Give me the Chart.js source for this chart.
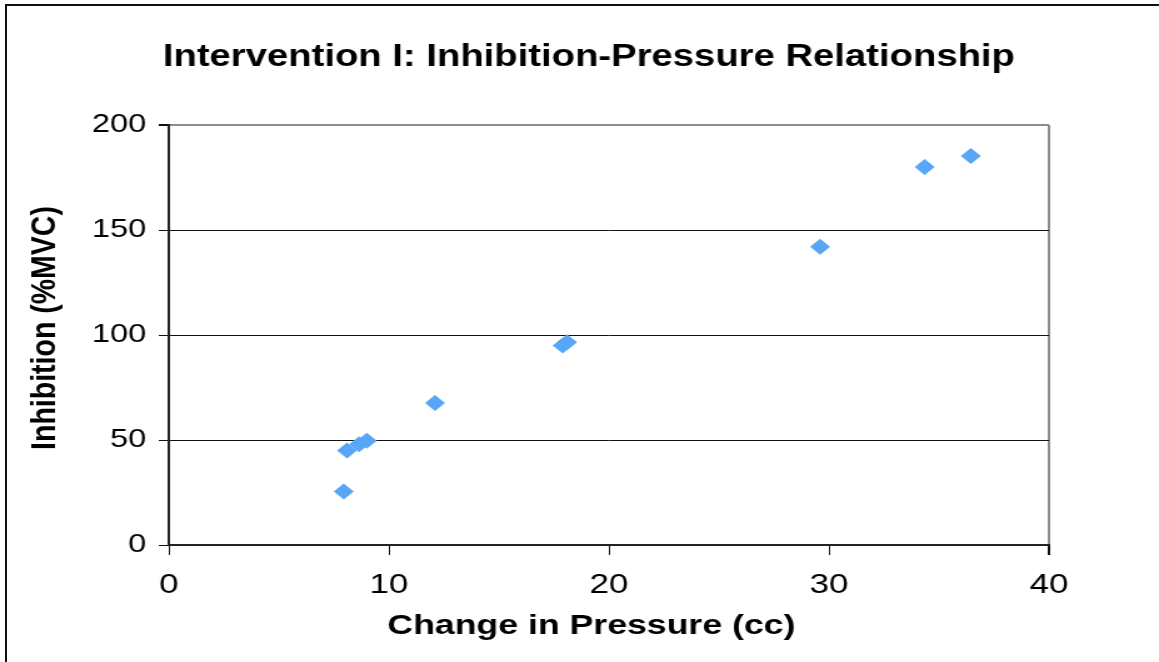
<!DOCTYPE html>
<html>
<head>
<meta charset="utf-8">
<script src="https://cdn.jsdelivr.net/npm/chart.js@4"></script>
<style>
  html, body { margin: 0; padding: 0; background: #fff; overflow: hidden; }
  #wrap { position: relative; width: 1159px; height: 662px; }
  #frame { position: absolute; left: 5px; top: 4px; width: 1300px; height: 800px;
           border-left: 2px solid #111; border-top: 2px solid #111; pointer-events: none; }
  canvas { position: absolute; left: 0; top: 0; }
</style>
</head>
<body>
<div id="wrap">
  <!-- the original picture is stretched sideways, so the canvas is drawn narrow and widened by css -->
  <canvas id="chart" width="927" height="662" style="width:1159px;height:662px"></canvas>
  <div id="frame"></div>
</div>
<script>
const chartTitle = "Intervention I: Inhibition-Pressure Relationship";
const xTitle = "Change in Pressure (cc)";
const yTitle = "Inhibition (%MVC)";

// values
const pressureChange = [7.95, 8.1, 8.65, 9.0, 12.1, 17.9, 18.1, 29.6, 34.35, 36.45];
const inhibition = [25.5, 45, 48, 49.7, 67.6, 95, 96.5, 142, 180, 185.2];

const xTicks = [0, 10, 20, 30, 40];
const yTicks = [0, 50, 100, 150, 200];

const FONT = '"Liberation Sans", Arial, sans-serif';

// chart title and axis titles sit a little off-centre in the original, so draw them here
const titles = {
  id: "titles",
  afterDraw(chart) {
    const c = chart.ctx;
    c.save();
    c.fillStyle = "#000";
    c.textAlign = "center";
    c.textBaseline = "middle";
    c.font = "bold 30.6px " + FONT;
    c.fillText(chartTitle, 471, 58);
    c.font = "bold 28.5px " + FONT;
    c.fillText(xTitle, 473, 626);
    c.translate(36, 328);
    c.rotate(-Math.PI / 2);
    c.fillText(yTitle, 0, 0);
    c.restore();
  },
};

const ctx = document.getElementById("chart").getContext("2d");
new Chart(ctx, {
  type: "scatter",
  data: {
    datasets: [
      {
        data: pressureChange.map((x, i) => ({ x: x, y: inhibition[i] })),
        pointStyle: "rectRot",
        pointRadius: 8,
        pointBorderWidth: 0,
        backgroundColor: "#57a6f7",
        borderColor: "#57a6f7",
      },
    ],
  },
  options: {
    responsive: false,
    animation: false,
    layout: { padding: { left: 0, right: 88, top: 125, bottom: 0 } },
    plugins: {
      legend: { display: false },
      tooltip: { enabled: false },
    },
    scales: {
      x: {
        type: "linear",
        min: 0,
        max: 40,
        afterBuildTicks: (s) => { s.ticks = xTicks.map((v) => ({ value: v })); },
        afterFit: (s) => { s.height = 117; },
        ticks: { color: "#000", font: { size: 28, family: FONT }, padding: 13 },
        grid: {
          drawOnChartArea: true,
          color: (c) => (c.tick && c.tick.value === 40 ? "#8c8c8c" : "rgba(0,0,0,0)"),
          lineWidth: (c) => (c.tick && c.tick.value === 40 ? 2 : 1),
          tickColor: "#111",
          tickLength: 10,
        },
        border: { color: "#222", width: 2 },
      },
      y: {
        min: 0,
        max: 200,
        afterBuildTicks: (s) => { s.ticks = yTicks.map((v) => ({ value: v })); },
        afterFit: (s) => { s.width = 135; },
        ticks: { color: "#000", font: { size: 26, family: FONT }, padding: 10 },
        grid: {
          color: (c) => {
            if (!c.tick) return "#111";
            if (c.tick.value === 200) return "#8c8c8c";
            if (c.tick.value === 0) return "rgba(0,0,0,0)";
            return "#111";
          },
          lineWidth: (c) => (c.tick && c.tick.value === 200 ? 2 : 1),
          tickColor: "#111",
          tickLength: 8,
        },
        border: { color: "#222", width: 2 },
      },
    },
  },
  plugins: [titles],
});
</script>
</body>
</html>
